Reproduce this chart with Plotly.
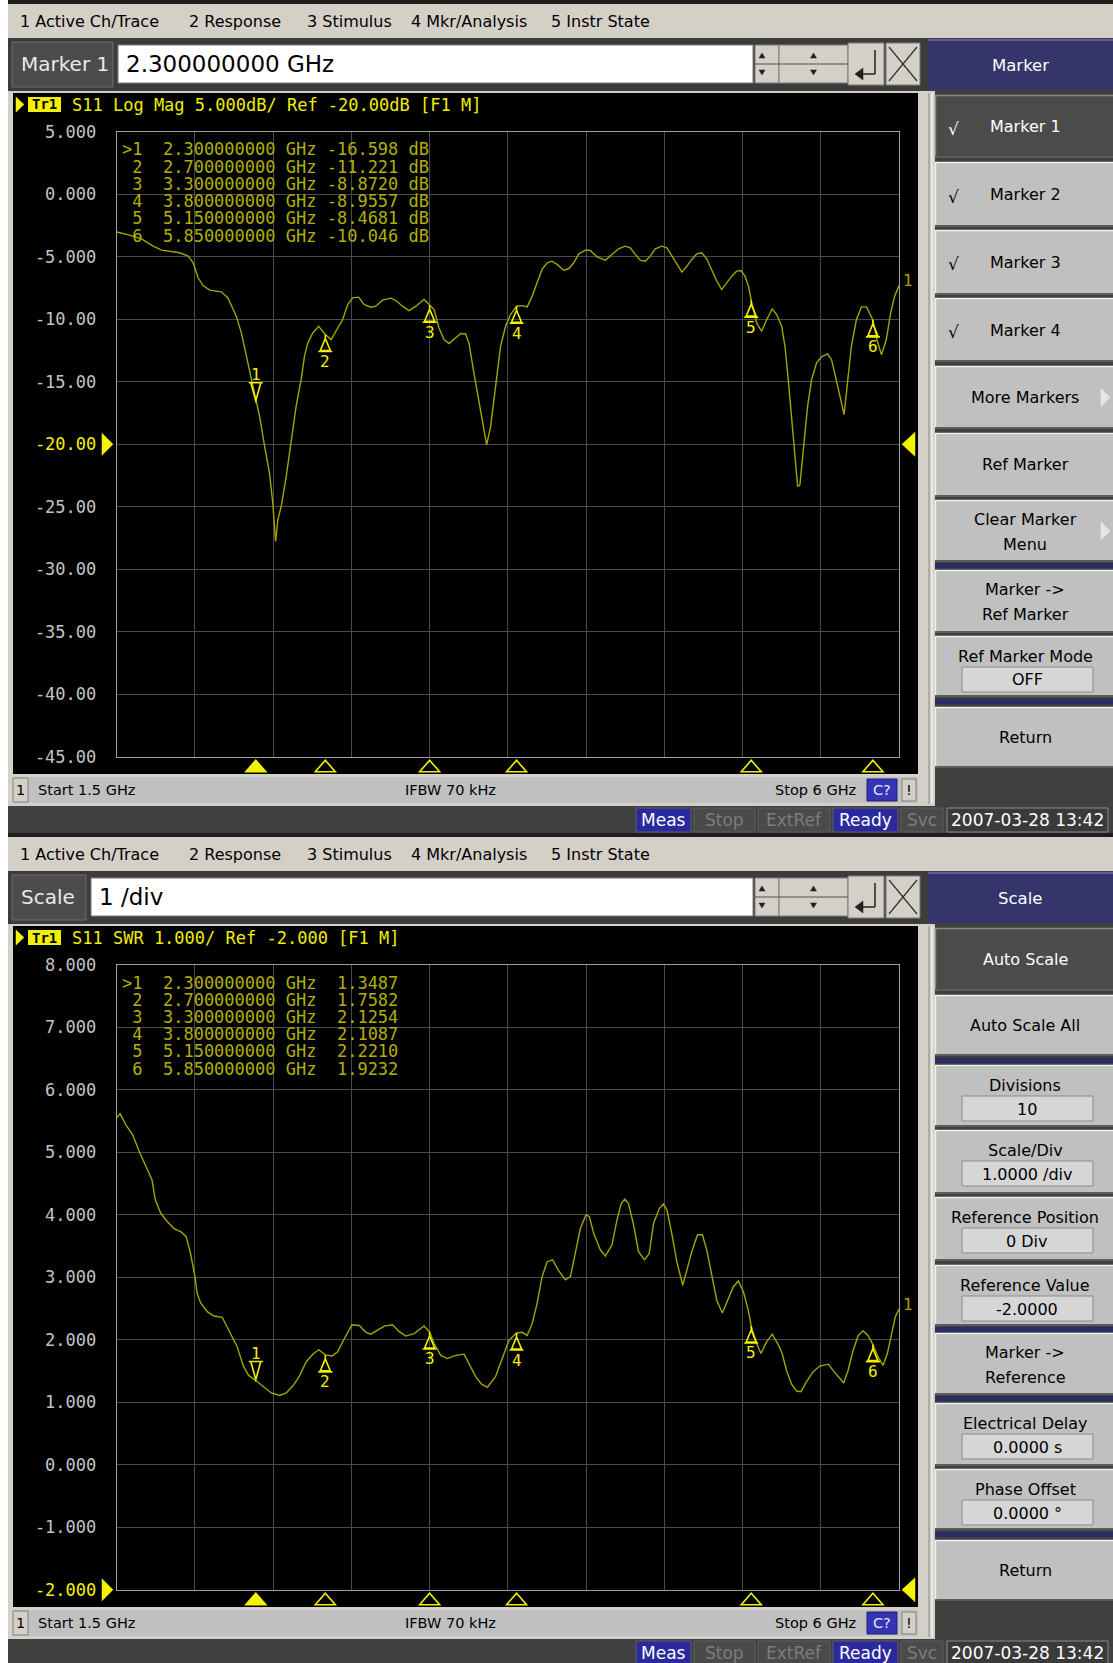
import plotly.graph_objects as go

W, H = 1113, 1663
PANEL_OFFSET = 833

# ---------------- data ----------------
freq_logmag = [1.500, 1.557, 1.643, 1.710, 1.758, 1.806, 1.863, 1.911, 1.940, 1.968, 1.997, 2.035,
               2.102, 2.140, 2.188, 2.217, 2.246, 2.265, 2.300, 2.322, 2.351, 2.379, 2.398, 2.414,
               2.427, 2.446, 2.475, 2.504, 2.532, 2.561, 2.580, 2.599, 2.628, 2.662, 2.700, 2.733,
               2.771, 2.800, 2.829, 2.857, 2.892, 2.924, 2.962, 2.991, 3.029, 3.077, 3.106, 3.144,
               3.182, 3.221, 3.268, 3.300, 3.326, 3.354, 3.383, 3.412, 3.440, 3.479, 3.507, 3.526,
               3.555, 3.584, 3.607, 3.628, 3.651, 3.679, 3.708, 3.737, 3.765, 3.800, 3.830, 3.861,
               3.890, 3.918, 3.947, 3.976, 4.004, 4.033, 4.071, 4.100, 4.129, 4.158, 4.196, 4.224,
               4.263, 4.311, 4.349, 4.387, 4.425, 4.454, 4.483, 4.511, 4.540, 4.569, 4.598, 4.636,
               4.665, 4.693, 4.722, 4.751, 4.780, 4.808, 4.837, 4.865, 4.894, 4.923, 4.952, 4.980,
               5.009, 5.038, 5.066, 5.091, 5.114, 5.135, 5.150, 5.181, 5.210, 5.239, 5.271, 5.296,
               5.325, 5.344, 5.363, 5.382, 5.401, 5.417, 5.430, 5.449, 5.474, 5.497, 5.526, 5.554,
               5.589, 5.612, 5.640, 5.665, 5.684, 5.703, 5.726, 5.755, 5.784, 5.813, 5.837, 5.850,
               5.872, 5.899, 5.927, 5.952, 5.975, 6.000]
s11_logmag_db = [-3.02, -3.21, -3.56, -4.15, -4.47, -4.55, -4.68, -4.95, -5.48, -6.68, -7.30, -7.67,
                 -7.80, -8.29, -9.75, -11.09, -12.96, -14.30, -16.598, -17.77, -20.17, -22.31, -24.71, -27.78,
                 -26.05, -24.98, -22.58, -19.90, -16.97, -14.83, -12.96, -11.89, -11.09, -10.56, -11.221, -11.62,
                 -10.69, -10.02, -8.82, -8.29, -8.23, -8.82, -9.03, -8.95, -8.47, -8.31, -8.50, -8.95,
                 -9.30, -8.95, -8.42, -8.872, -9.22, -10.69, -11.62, -11.94, -11.62, -11.14, -11.17, -11.89,
                 -14.30, -16.70, -18.57, -20.04, -18.57, -15.36, -12.16, -10.56, -9.62, -8.9557, -8.91, -9.01,
                 -8.15, -7.08, -6.01, -5.48, -5.35, -5.61, -6.07, -5.96, -5.48, -4.76, -4.47, -4.49,
                 -5.00, -5.27, -4.81, -4.36, -4.15, -4.28, -4.81, -5.27, -5.35, -4.95, -4.36, -4.15,
                 -4.28, -4.89, -5.61, -6.23, -5.75, -5.21, -4.76, -4.68, -5.16, -6.01, -6.95, -7.62,
                 -7.08, -6.55, -6.15, -6.10, -6.55, -7.40, -8.4681, -10.29, -10.96, -10.02, -9.17, -9.62,
                 -10.56, -12.16, -14.83, -18.03, -21.24, -23.38, -23.24, -20.45, -16.97, -14.83, -13.49, -13.01,
                 -12.77, -13.23, -14.83, -16.43, -17.63, -15.36, -12.16, -10.02, -9.01, -9.01, -9.75, -10.046,
                 -11.60, -12.83, -11.62, -9.49, -8.15, -7.30]

freq_swr = [1.500, 1.519, 1.553, 1.592, 1.630, 1.678, 1.703, 1.722, 1.754, 1.792, 1.830, 1.868,
            1.900, 1.925, 1.950, 1.963, 1.983, 2.021, 2.059, 2.107, 2.145, 2.193, 2.230, 2.259,
            2.300, 2.341, 2.389, 2.437, 2.475, 2.513, 2.551, 2.590, 2.628, 2.662, 2.700, 2.739,
            2.771, 2.810, 2.853, 2.895, 2.934, 2.962, 3.001, 3.039, 3.087, 3.125, 3.163, 3.211,
            3.268, 3.300, 3.326, 3.364, 3.402, 3.450, 3.498, 3.526, 3.565, 3.599, 3.632, 3.679,
            3.718, 3.756, 3.800, 3.832, 3.861, 3.890, 3.918, 3.947, 3.976, 4.008, 4.039, 4.081,
            4.110, 4.138, 4.167, 4.200, 4.219, 4.244, 4.282, 4.311, 4.349, 4.378, 4.402, 4.422,
            4.444, 4.473, 4.502, 4.536, 4.563, 4.588, 4.621, 4.645, 4.665, 4.693, 4.722, 4.756,
            4.779, 4.808, 4.841, 4.869, 4.894, 4.923, 4.952, 4.984, 5.015, 5.047, 5.076, 5.105,
            5.133, 5.150, 5.181, 5.206, 5.239, 5.271, 5.302, 5.328, 5.353, 5.382, 5.411, 5.436,
            5.468, 5.506, 5.545, 5.593, 5.621, 5.650, 5.682, 5.707, 5.736, 5.765, 5.793, 5.822,
            5.850, 5.879, 5.908, 5.933, 5.956, 5.979, 6.000]
s11_swr = [5.55, 5.62, 5.44, 5.28, 5.01, 4.72, 4.56, 4.24, 4.02, 3.89, 3.78, 3.73,
           3.65, 3.38, 3.01, 2.74, 2.59, 2.45, 2.38, 2.36, 2.15, 1.89, 1.57, 1.43,
           1.3487, 1.26, 1.15, 1.11, 1.15, 1.26, 1.42, 1.65, 1.77, 1.84, 1.7582, 1.74,
           1.81, 2.02, 2.24, 2.23, 2.12, 2.09, 2.15, 2.22, 2.24, 2.13, 2.06, 2.10,
           2.22, 2.1254, 1.94, 1.75, 1.70, 1.75, 1.77, 1.62, 1.41, 1.29, 1.24, 1.41,
           1.70, 1.99, 2.1087, 2.12, 2.07, 2.26, 2.58, 3.01, 3.25, 3.28, 3.12, 2.96,
           3.01, 3.38, 3.78, 4.00, 3.97, 3.70, 3.44, 3.34, 3.52, 3.92, 4.18, 4.25,
           4.18, 3.84, 3.41, 3.28, 3.38, 3.86, 4.10, 4.17, 4.08, 3.70, 3.25, 2.87,
           3.09, 3.41, 3.68, 3.68, 3.44, 3.01, 2.63, 2.43, 2.63, 2.85, 2.94, 2.77,
           2.47, 2.221, 1.94, 1.78, 1.97, 2.09, 1.94, 1.78, 1.51, 1.29, 1.18, 1.17,
           1.33, 1.49, 1.58, 1.61, 1.51, 1.41, 1.31, 1.51, 1.83, 2.07, 2.14, 2.07,
           1.9232, 1.73, 1.59, 1.78, 2.07, 2.37, 2.49]

marker_freq = [2.3, 2.7, 3.3, 3.8, 5.15, 5.85]
marker_freq_text = ["2.300000000", "2.700000000", "3.300000000", "3.800000000", "5.150000000", "5.850000000"]
marker_db = [-16.598, -11.221, -8.8720, -8.9557, -8.4681, -10.046]
marker_db_text = ["-16.598", "-11.221", "-8.8720", "-8.9557", "-8.4681", "-10.046"]
marker_swr = [1.3487, 1.7582, 2.1254, 2.1087, 2.2210, 1.9232]
marker_swr_text = ["1.3487", "1.7582", "2.1254", "2.1087", "2.2210", "1.9232"]

logmag_ticks = [5, 0, -5, -10, -15, -20, -25, -30, -35, -40, -45]
logmag_ticktext = ["5.000", "0.000", "-5.000", "-10.00", "-15.00", "-20.00", "-25.00", "-30.00",
                   "-35.00", "-40.00", "-45.00"]
logmag_ref = -20
swr_ticks = [8, 7, 6, 5, 4, 3, 2, 1, 0, -1, -2]
swr_ticktext = ["8.000", "7.000", "6.000", "5.000", "4.000", "3.000", "2.000", "1.000", "0.000",
                "-1.000", "-2.000"]
swr_ref = -2

menu_items = ["1 Active Ch/Trace", "2 Response", "3 Stimulus", "4 Mkr/Analysis", "5 Instr State"]

# ---------------- geometry helpers ----------------
UI = "DejaVu Sans"
MONO = "DejaVu Sans Mono"
TRACE = "#a4a400"
MK = "#f2f200"
TABLE = "#b0b000"

PL, PR = 116.7, 899.0
PT1, PB1 = 131.8, 756.8
PT2, PB2 = PT1 + PANEL_OFFSET, PB1 + PANEL_OFFSET


def X(px):
    return px / W


def Y(py):
    return 1 - py / H


shapes = []
annos = []


def rect(x0, y0, x1, y1, fill, line=None, lw=1, layer="below"):
    shapes.append(dict(type="rect", xref="paper", yref="paper", x0=X(x0), x1=X(x1), y0=Y(y1), y1=Y(y0),
                       fillcolor=fill, line=dict(color=line if line else fill, width=lw if line else 0),
                       layer=layer))


def seg(x0, y0, x1, y1, color, w=1, layer="below"):
    shapes.append(dict(type="line", xref="paper", yref="paper", x0=X(x0), y0=Y(y0), x1=X(x1), y1=Y(y1),
                       line=dict(color=color, width=w), layer=layer))


def poly(pts, fill, layer="below"):
    p = "M " + " L ".join(f"{X(a):.6f},{Y(b):.6f}" for a, b in pts) + " Z"
    shapes.append(dict(type="path", xref="paper", yref="paper", path=p, fillcolor=fill,
                       line=dict(color=fill, width=0.5), layer=layer))


def text(x, y, s, size, color, family=UI, anchor="left"):
    annos.append(dict(xref="paper", yref="paper", x=X(x), y=Y(y), text=s, showarrow=False,
                      xanchor=anchor, yanchor="middle", borderpad=0,
                      font=dict(family=family, size=size, color=color)))


def button(o, t, b, lines, selected=False, field=None, arrow=False, check=False):
    x0, x1 = 935, 1113
    fill = "#4b4b4b" if selected else "#c0c0c0"
    fg = "#ffffff" if selected else "#000000"
    rect(x0, o + t, x1, o + b, fill)
    seg(x0, o + t + 0.5, x1, o + t + 0.5, "#8a8a8a" if selected else "#efefef", 1.5)
    seg(x0 + 0.5, o + t, x0 + 0.5, o + b, "#8a8a8a" if selected else "#efefef", 1.5)
    seg(x0, o + b - 1, x1, o + b - 1, "#5c5c5c", 2)
    cx = 1025
    if field is not None:
        text(cx, o + t + 20, lines[0], 16, fg, anchor="center")
        rect(962, o + t + 31, 1093, o + t + 56, "#d6d6d6", "#8c8c8c", 1)
        text(cx + 2, o + t + 44, field, 16, "#000000", anchor="center")
    elif len(lines) == 2:
        mid = (t + b) / 2
        text(cx, o + mid - 12, lines[0], 16, fg, anchor="center")
        text(cx, o + mid + 13, lines[1], 16, fg, anchor="center")
    else:
        text(cx, o + (t + b) / 2, lines[0], 16, fg, anchor="center")
    if check:
        text(953, o + (t + b) / 2 + 2, "√", 17, fg, anchor="center")
    if arrow:
        m = o + (t + b) / 2
        poly([(1101, m - 9), (1110, m), (1101, m + 9)], "#e6e6e6")


def draw_panel(o, label, label_right, value, key_title, buttons, separators, table_lines, title):
    # top edge + menu bar
    rect(8, o, 1113, o + 4, "#1e1e1e")
    rect(8, o + 4, 1113, o + 38, "#d4d0c8")
    for name, xp in zip(menu_items, [19, 188, 306, 410, 550]):
        text(xp, o + 21, name, 16, "#000000")
    # entry row
    rect(8, o + 38, 928, o + 91, "#3c3c3c")
    rect(12, o + 42, label_right, o + 87, "#4c4c4c", "#6c6c6c")
    text(20, o + 64, label, 20, "#e8e8e8")
    rect(label_right + 5, o + 45, 753, o + 83, "#ffffff", "#7a7a7a")
    text(label_right + 12, o + 64, value, 23, "#000000")
    # spinners
    for a, bb in [(755, 779), (779, 848)]:
        rect(a, o + 45, bb, o + 83, "#d4d0c8", "#7a7a7a")
        seg(a, o + 64, bb, o + 64, "#505050", 1)
        c = (a + bb) / 2 if bb - a > 30 else a + 7
        poly([(c - 3, o + 58), (c + 3, o + 58), (c, o + 53)], "#202020")
        poly([(c - 3, o + 70), (c + 3, o + 70), (c, o + 75)], "#202020")
    rect(848, o + 43, 884, o + 85, "#d4d0c8", "#7a7a7a")
    seg(875, o + 50, 875, o + 74, "#202020", 1.5)
    seg(875, o + 74, 856, o + 74, "#202020", 1.5)
    poly([(855, o + 74), (863, o + 68), (863, o + 80)], "#202020")
    rect(886, o + 43, 920, o + 85, "#d4d0c8", "#7a7a7a")
    seg(889, o + 47, 917, o + 81, "#303030", 1.2)
    seg(917, o + 47, 889, o + 81, "#303030", 1.2)
    # soft key column
    rect(928, o + 38, 1113, o + 91, "#404040")
    rect(928, o + 39, 1113, o + 90, "#35356b")
    seg(928, o + 40, 1113, o + 40, "#6a6aa4", 1.5)
    text(1020, o + 65, key_title, 16.5, "#ffffff", anchor="center")
    # window frame
    rect(8, o + 91, 935, o + 806, "#d4d0c8")
    seg(929, o + 93, 929, o + 804, "#8a8a8a", 1)
    seg(932, o + 93, 932, o + 804, "#ffffff", 1)
    rect(935, o + 91, 1113, o + 806, "#404040")
    for bt in buttons:
        button(o, *bt)
    for s0, s1 in separators:
        rect(935, o + s0, 1113, o + s1, "#2c2c64")
    # black trace window
    rect(13, o + 93, 918, o + 774, "#000000")
    poly([(16, o + 97), (24, o + 104.5), (16, o + 112)], "#f4f400")
    rect(28, o + 97, 61, o + 112, "#f0f000")
    text(44.5, o + 104.5, "<b>Tr1</b>", 14, "#000000", family=MONO, anchor="center")
    text(71, o + 105, title, 17, "#eeee00", family=MONO)
    for i, ln in enumerate(table_lines):
        text(121, o + 149.5 + i * 17.2, ln, 17, TABLE, family=MONO)
    # status bar
    rect(13, o + 777, 918, o + 803, "#c0c0c0")
    rect(13, o + 778, 28, o + 802, "#d4d0c8", "#808080")
    text(20.5, o + 790, "1", 14.5, "#000000", anchor="center")
    text(37, o + 790, "Start 1.5 GHz", 14.5, "#000000")
    text(404, o + 790, "IFBW 70 kHz", 14.5, "#000000")
    text(857, o + 790, "Stop 6 GHz", 14.5, "#000000", anchor="right")
    rect(867, o + 779, 897, o + 801, "#3434b4", "#202070")
    text(882, o + 790, "C?", 14.5, "#e8e8ff", anchor="center")
    rect(902, o + 779, 916, o + 801, "#d4d0c8", "#808080")
    text(909, o + 790, "!", 14.5, "#000000", anchor="center")
    # bottom status row
    rect(8, o + 806, 1113, o + 834, "#404040")
    boxes = [(636, 691, "Meas", "#2a2a9e", "#ffffff"), (694, 755, "Stop", "#4a4a4a", "#7c7c7c"),
             (758, 830, "ExtRef", "#4a4a4a", "#7c7c7c"), (833, 898, "Ready", "#2a2a9e", "#ffffff"),
             (901, 943, "Svc", "#4a4a4a", "#7c7c7c"), (947, 1108, "2007-03-28 13:42", "#3a3a3a", "#ffffff")]
    for a, bb, s, f, c in boxes:
        rect(a, o + 808, bb, o + 832, f, "#8a8a8a" if s.startswith("2007") else "#5e5e5e")
        text((a + bb) / 2, o + 820, s, 17, c, anchor="center")


NB = "\u00a0"
tbl1 = [(">" if i == 0 else NB) + str(i + 1) + NB * 2 + f + NB + "GHz" + NB + d + NB + "dB"
        for i, (f, d) in enumerate(zip(marker_freq_text, marker_db_text))]
tbl2 = [(">" if i == 0 else NB) + str(i + 1) + NB * 2 + f + NB + "GHz" + NB * 2 + s
        for i, (f, s) in enumerate(zip(marker_freq_text, marker_swr_text))]

marker_buttons = [
    (95, 158, ["Marker 1"], True, None, False, True),
    (162, 227, ["Marker 2"], False, None, False, True),
    (230, 295, ["Marker 3"], False, None, False, True),
    (298, 362, ["Marker 4"], False, None, False, True),
    (366, 429, ["More Markers"], False, None, True, False),
    (433, 497, ["Ref Marker"], False, None, False, False),
    (500, 562, ["Clear Marker", "Menu"], False, None, True, False),
    (570, 633, ["Marker ->", "Ref Marker"], False, None, False, False),
    (636, 697, ["Ref Marker Mode"], False, "OFF", False, False),
    (707, 768, ["Return"], False, None, False, False),
]
scale_buttons = [
    (95, 158, ["Auto Scale"], True, None, False, False),
    (162, 223, ["Auto Scale All"], False, None, False, False),
    (232, 294, ["Divisions"], False, "10", False, False),
    (297, 361, ["Scale/Div"], False, "1.0000 /div", False, False),
    (364, 428, ["Reference Position"], False, "0 Div", False, False),
    (432, 493, ["Reference Value"], False, "-2.0000", False, False),
    (500, 562, ["Marker ->", "Reference"], False, None, False, False),
    (570, 633, ["Electrical Delay"], False, "0.0000 s", False, False),
    (636, 697, ["Phase Offset"], False, "0.0000 °", False, False),
    (707, 768, ["Return"], False, None, False, False),
]

draw_panel(0, "Marker 1", 113, "2.300000000 GHz", "Marker", marker_buttons, [(563, 568), (699, 704)],
           tbl1, "S11 Log Mag 5.000dB/ Ref -20.00dB [F1 M]")
draw_panel(PANEL_OFFSET, "Scale", 86, "1 /div", "Scale", scale_buttons,
           [(225, 230), (494, 499), (563, 568), (699, 704)],
           tbl2, "S11 SWR 1.000/ Ref -2.000 [F1 M]")


# ---------------- chart traces ----------------
def ref_arrows(pt, pb, ymin, ymax, ref):
    yp = pt + (ymax - ref) / (ymax - ymin) * (pb - pt)
    poly([(102, yp - 11), (113, yp), (102, yp + 11)], "#f4f400", layer="above")
    poly([(915, yp - 12), (902, yp), (915, yp + 12)], "#f4f400", layer="above")


ref_arrows(PT1, PB1, -45, 5, logmag_ref)
ref_arrows(PT2, PB2, -2, 8, swr_ref)

fig = go.Figure()
fig.add_trace(go.Scatter(x=freq_logmag, y=s11_logmag_db, xaxis="x", yaxis="y", mode="lines",
                         line=dict(color=TRACE, width=1.4), hoverinfo="skip", showlegend=False))
fig.add_trace(go.Scatter(x=freq_swr, y=s11_swr, xaxis="x2", yaxis="y2", mode="lines",
                         line=dict(color=TRACE, width=1.4), hoverinfo="skip", showlegend=False))

ACTIVE_PATH = "M -7 19 L 7 19 M -5 19 L 5 19 L 0 1 Z"
INACTIVE_PATH = "M 0 0 L 0 -5 M -5 -16 L 0 -4 L 5 -16 Z M -7 -17 L 7 -17"

for xa, ya, vals, freqs, pb in [("x", "y", marker_db, marker_freq, PB1),
                                 ("x2", "y2", marker_swr, marker_freq, PB2)]:
    for i, (f, v) in enumerate(zip(freqs, vals)):
        shapes.append(dict(type="path", xref=xa, yref=ya, xsizemode="pixel", ysizemode="pixel",
                           xanchor=f, yanchor=v, path=ACTIVE_PATH if i == 0 else INACTIVE_PATH,
                           line=dict(color=MK, width=1.6), fillcolor="rgba(0,0,0,0)", layer="above"))
        annos.append(dict(xref=xa, yref=ya, x=f, y=v, text=str(i + 1), showarrow=False,
                          yshift=27 if i == 0 else -27, xshift=0, borderpad=0,
                          font=dict(family=MONO, size=16, color=MK)))
        ya0, ya1 = Y(pb + 3.5), Y(pb + 15)
        shapes.append(dict(type="path", xref=xa, yref="paper", xsizemode="pixel", xanchor=f,
                           path=f"M -10 {ya1:.6f} L 10 {ya1:.6f} L 0 {ya0:.6f} Z",
                           line=dict(color=MK, width=1.6),
                           fillcolor=MK if i == 0 else "rgba(0,0,0,0)", layer="above"))

annos.append(dict(xref="x", yref="y", x=freq_logmag[-1], y=s11_logmag_db[-1], text="1", showarrow=False,
                  xanchor="left", xshift=2, yshift=5, font=dict(family=MONO, size=16, color=TRACE)))
annos.append(dict(xref="x2", yref="y2", x=freq_swr[-1], y=s11_swr[-1], text="1", showarrow=False,
                  xanchor="left", xshift=2, yshift=5, font=dict(family=MONO, size=16, color=TRACE)))


def ytxt(labels, vals, ref):
    return [f'<span style="color:#f4f400">{t}</span>' if v == ref else t for t, v in zip(labels, vals)]


xcommon = dict(range=[1.5, 6.0], tick0=1.5, dtick=0.45, showgrid=True, gridcolor="#4a4a4a", gridwidth=1,
               showline=True, mirror=True, linecolor="#a0a0a0", linewidth=1, zeroline=False,
               showticklabels=False, ticks="", fixedrange=True, automargin=False, title=dict(text=""))
ycommon = dict(showgrid=True, gridcolor="#4a4a4a", gridwidth=1, showline=True, mirror=True,
               linecolor="#a0a0a0", linewidth=1, zeroline=False, ticks="", ticklabelstandoff=16,
               tickfont=dict(family=MONO, size=17, color="#c4c4c4"), fixedrange=True, automargin=False,
               title=dict(text=""))

fig.update_layout(
    template="none",
    width=W, height=H, margin=dict(l=0, r=0, t=0, b=0, pad=0, autoexpand=False),
    paper_bgcolor="#ffffff", plot_bgcolor="#000000", showlegend=False, hovermode=False,
    xaxis=dict(domain=[X(PL), X(PR)], anchor="y", **xcommon),
    yaxis=dict(domain=[Y(PB1), Y(PT1)], anchor="x", range=[-45, 5], tickmode="array",
               tickvals=logmag_ticks, ticktext=ytxt(logmag_ticktext, logmag_ticks, logmag_ref), **ycommon),
    xaxis2=dict(domain=[X(PL), X(PR)], anchor="y2", **xcommon),
    yaxis2=dict(domain=[Y(PB2), Y(PT2)], anchor="x2", range=[-2, 8], tickmode="array",
                tickvals=swr_ticks, ticktext=ytxt(swr_ticktext, swr_ticks, swr_ref), **ycommon),
    shapes=shapes, annotations=annos,
)

fig.write_html("out.html", include_plotlyjs=True, full_html=True,
               config={"displayModeBar": False, "staticPlot": True},
               post_script="document.body.style.margin='0px';document.body.style.overflow='hidden';")
